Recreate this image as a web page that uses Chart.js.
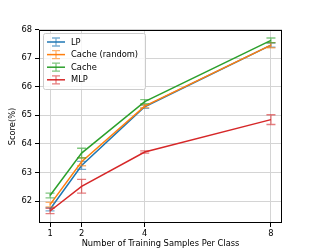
<!DOCTYPE html>
<html>
<head>
<meta charset="utf-8">
<script src="https://cdn.jsdelivr.net/npm/chart.js@4"></script>
<style>
  html, body { margin: 0; padding: 0; background: #fff; }
  #wrap { width: 314px; height: 251px; }
</style>
</head>
<body>
<div id="wrap"><canvas id="scoreChart" width="314" height="251"></canvas></div>
<script>
// samples per class on the x axis
const shots = [1, 2, 4, 8];
const xTicks = [1, 2, 4, 8];
const yTicks = [62, 63, 64, 65, 66, 67, 68];

// mean score and error per method
const lpScore = [61.72, 63.25, 65.30, 67.45];
const lpErr = [0.06, 0.14, 0.06, 0.07];
const cacheRandomScore = [61.88, 63.38, 65.32, 67.45];
const cacheRandomErr = [0.08, 0.14, 0.05, 0.09];
const cacheScore = [62.20, 63.68, 65.48, 67.62];
const cacheErr = [0.08, 0.17, 0.07, 0.08];
const mlpScore = [61.66, 62.52, 63.72, 64.85];
const mlpErr = [0.09, 0.24, 0.04, 0.17];

const series = [
  { label: 'LP', y: lpScore, err: lpErr, color: '#1f77b4' },
  { label: 'Cache (random)', y: cacheRandomScore, err: cacheRandomErr, color: '#ff7f0e' },
  { label: 'Cache', y: cacheScore, err: cacheErr, color: '#2ca02c' },
  { label: 'MLP', y: mlpScore, err: mlpErr, color: '#d62728' }
];

const FONT = 'DejaVu Sans';

// error bars drawn right after each line, like matplotlib's errorbar
const errorBars = {
  id: 'errorBars',
  afterDatasetDraw(chart, args) {
    const s = series[args.index];
    const ctx = chart.ctx;
    const xs = chart.scales.x, ys = chart.scales.y;
    ctx.save();
    ctx.strokeStyle = s.color;
    ctx.globalAlpha = 0.6;
    ctx.lineWidth = 1.3;
    shots.forEach((v, i) => {
      const px = xs.getPixelForValue(v);
      const top = ys.getPixelForValue(s.y[i] + s.err[i]);
      const bot = ys.getPixelForValue(s.y[i] - s.err[i]);
      ctx.beginPath();
      ctx.moveTo(px, top); ctx.lineTo(px, bot);
      ctx.moveTo(px - 4.5, top); ctx.lineTo(px + 4.5, top);
      ctx.moveTo(px - 4.5, bot); ctx.lineTo(px + 4.5, bot);
      ctx.stroke();
    });
    ctx.restore();
  }
};

// black frame on all four sides plus the legend in the upper left
const frameAndLegend = {
  id: 'frameAndLegend',
  afterDraw(chart) {
    const ctx = chart.ctx;
    const a = chart.chartArea;
    ctx.save();
    ctx.strokeStyle = '#000';
    ctx.lineWidth = 1;
    ctx.strokeRect(a.left + 0.5, a.top + 0.5, a.right - a.left - 1, a.bottom - a.top - 1);

    // legend box
    const lx = a.left + 4, ly = a.top + 3, lw = 102, lh = 56;
    ctx.globalAlpha = 0.8;
    ctx.fillStyle = '#fff';
    ctx.strokeStyle = '#cccccc';
    ctx.beginPath();
    ctx.roundRect(lx + 0.5, ly + 0.5, lw, lh, 2);
    ctx.fill();
    ctx.globalAlpha = 1;
    ctx.stroke();

    ctx.font = '8.3px "' + FONT + '"';
    ctx.textBaseline = 'middle';
    series.forEach((s, i) => {
      const cy = ly + 9 + i * 12.6;
      const hx0 = lx + 4, hx1 = lx + 22, hc = (hx0 + hx1) / 2;
      ctx.strokeStyle = s.color;
      ctx.lineWidth = 1.5;
      ctx.beginPath();
      ctx.moveTo(hx0, cy); ctx.lineTo(hx1, cy);
      ctx.stroke();
      ctx.globalAlpha = 0.6;
      ctx.lineWidth = 1.3;
      ctx.beginPath();
      ctx.moveTo(hc, cy - 4); ctx.lineTo(hc, cy + 4);
      ctx.moveTo(hc - 4, cy - 4); ctx.lineTo(hc + 4, cy - 4);
      ctx.moveTo(hc - 4, cy + 4); ctx.lineTo(hc + 4, cy + 4);
      ctx.stroke();
      ctx.globalAlpha = 1;
      ctx.fillStyle = '#000';
      ctx.fillText(s.label, lx + 28, cy + 0.5);
    });
    ctx.restore();
  }
};

new Chart(document.getElementById('scoreChart'), {
  type: 'line',
  data: {
    datasets: series.map((s, i) => ({
      label: s.label,
      data: shots.map((v, j) => ({ x: v, y: s.y[j] })),
      borderColor: s.color,
      backgroundColor: s.color,
      borderWidth: 1.5,
      pointRadius: 0,
      tension: 0,
      order: series.length - i
    }))
  },
  options: {
    responsive: false,
    animation: false,
    events: [],
    layout: { padding: { left: 0, top: 30, right: 32, bottom: 0 } },
    plugins: { legend: { display: false }, tooltip: { enabled: false } },
    scales: {
      x: {
        type: 'linear',
        min: 0.65,
        max: 8.35,
        afterBuildTicks(axis) { axis.ticks = xTicks.map(v => ({ value: v })); },
        afterFit(axis) { axis.height = 28; },
        grid: { color: '#d4d4d4', lineWidth: 1, tickColor: '#000', tickLength: 4 },
        border: { display: false },
        ticks: { color: '#000', padding: 2, font: { family: FONT, size: 8.3 }, maxRotation: 0 },
        title: { display: true, text: 'Number of Training Samples Per Class', color: '#000',
                 font: { family: FONT, size: 8.3 }, padding: { top: 0, bottom: 2 } }
      },
      y: {
        min: 61.24,
        max: 67.98,
        afterBuildTicks(axis) { axis.ticks = yTicks.map(v => ({ value: v })); },
        afterFit(axis) { axis.width = 39; },
        grid: { color: '#d4d4d4', lineWidth: 1, tickColor: '#000', tickLength: 4 },
        border: { display: false },
        ticks: { color: '#000', padding: 3, font: { family: FONT, size: 8.3 } },
        title: { display: true, text: 'Score(%)', color: '#000',
                 font: { family: FONT, size: 8.3 }, padding: { top: 8, bottom: 0 } }
      }
    }
  },
  plugins: [errorBars, frameAndLegend]
});
</script>
</body>
</html>
